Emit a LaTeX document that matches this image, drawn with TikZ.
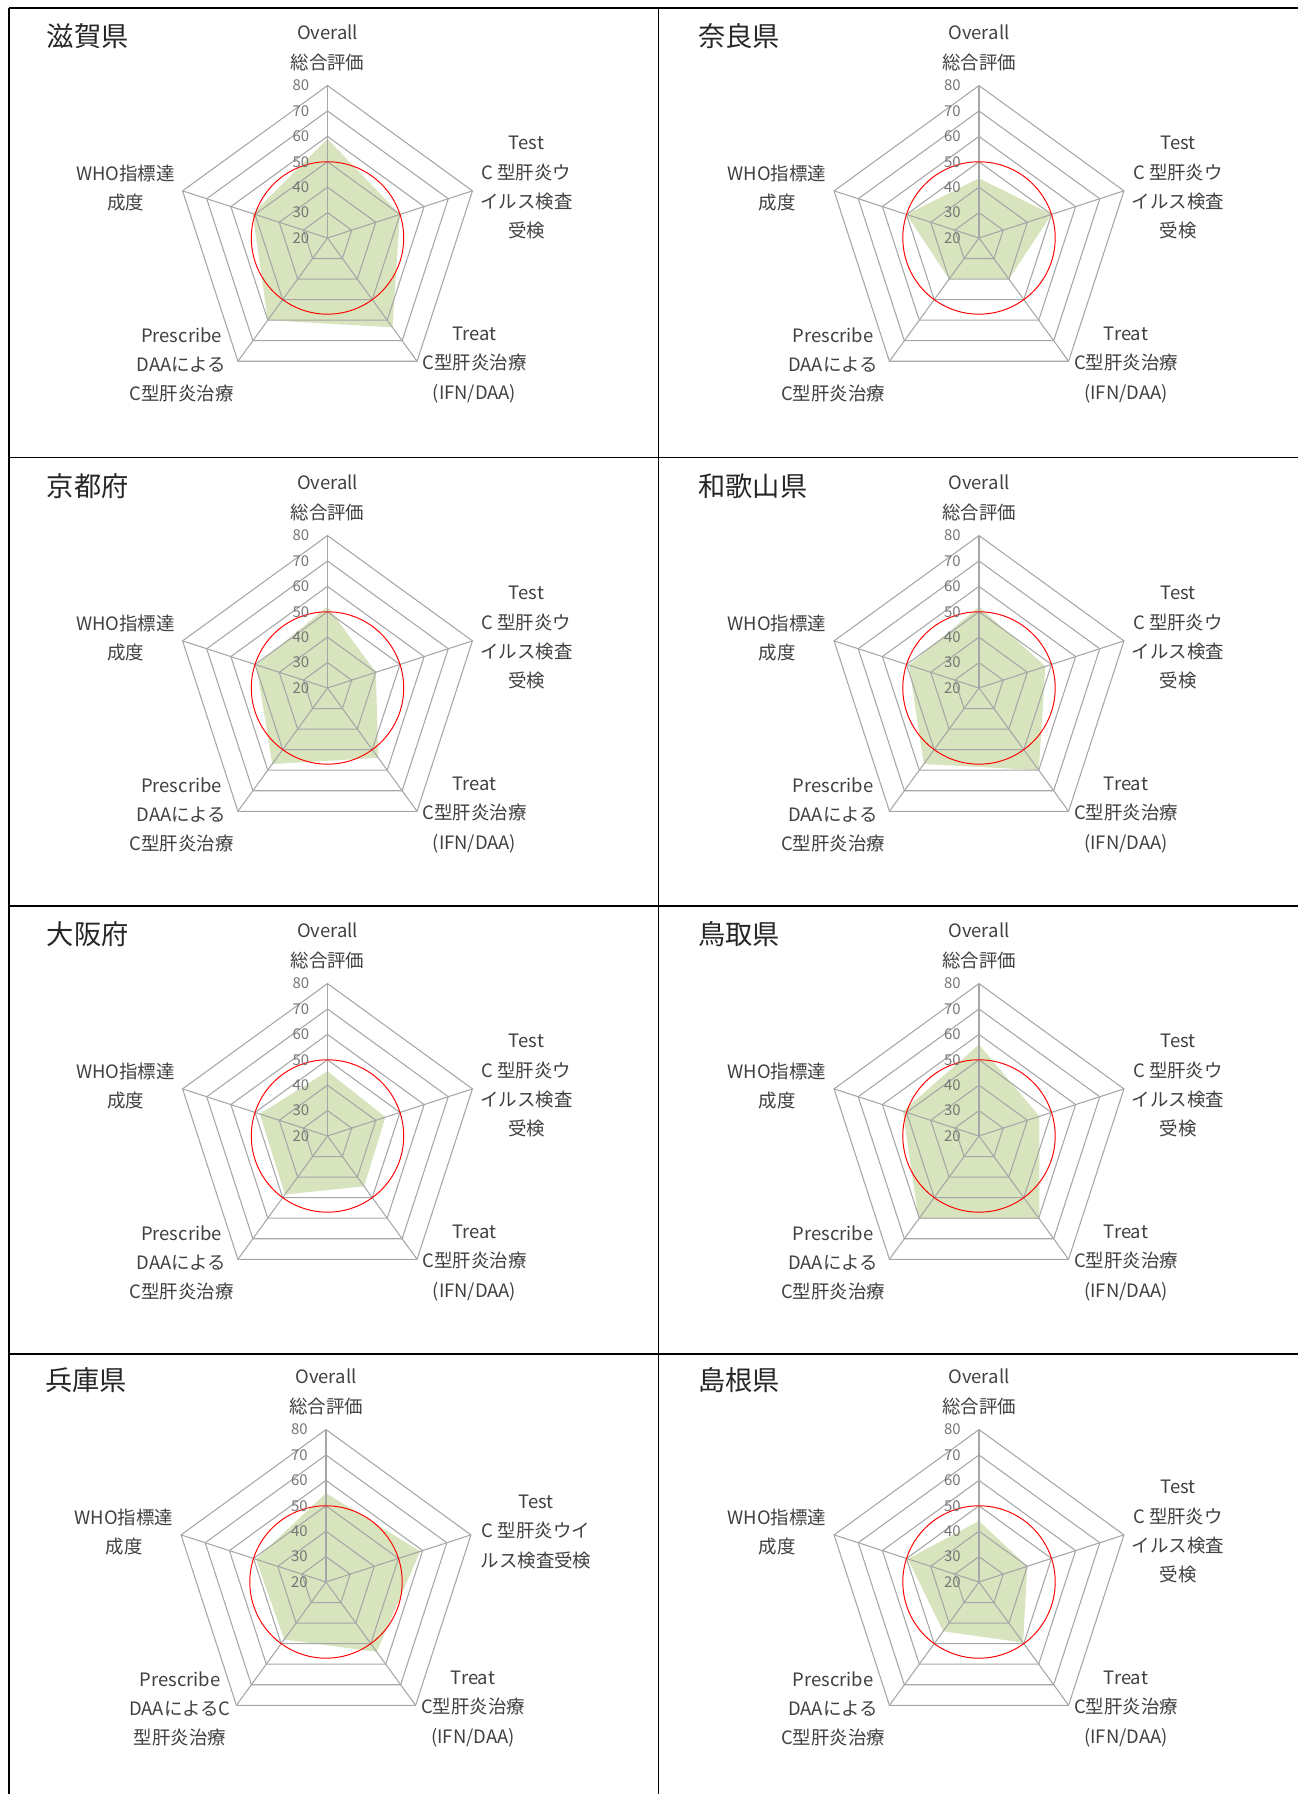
\documentclass[tikz,border=0pt]{standalone}
\usepackage{fontspec}
\setmainfont{Noto Sans CJK JP}
\usetikzlibrary{positioning}

\definecolor{gridgray}{RGB}{166,166,166}
\definecolor{labgray}{RGB}{64,64,64}
\definecolor{tickgray}{RGB}{118,118,118}
\definecolor{radargreen}{RGB}{215,228,189}

\begin{document}
\begin{tikzpicture}[x=0.02cm, y=0.02cm,
    gridline/.style={draw=gridgray, line width=0.6pt},
    radarfill/.style={fill=radargreen},
    target/.style={draw=red, line width=0.55pt},
    axislab/.style={font=\fontsize{10.5}{16.7}\selectfont, text=labgray, align=center, inner sep=0pt},
    ticklab/.style={font=\fontsize{8.5}{10}\selectfont, text=tickgray, anchor=east, inner sep=0pt},
    pref/.style={font=\fontsize{15.5}{18}\selectfont, text=black!85, anchor=west, inner sep=0pt},
    cellline/.style={line width=1.1pt}]
    % Define the ring gap (px per 10 points, centre = 20)
    \def\ringgap{2.54}
    \useasboundingbox (0,0) rectangle (1298,1794);

    % Table lines
    \foreach \y in {1786, 1336.5, 888, 440} {
        \draw[cellline] (9,\y) -- (1298,\y);
    }
    \foreach \x in {9, 658.5} {
        \draw[cellline] (\x,0) -- (\x,1786);
    }

    \foreach \cx/\cy/\pname/\va/\vb/\vc/\vd/\ve/\tx/\tlab/\plab [count=\k] in {
        327.5/1556/滋賀県/59/50/63.5/60/51/199/{C 型肝炎ウ\\イルス検査\\受検}/{DAAによる\\C型肝炎治療},
        979/1556/奈良県/43.5/50/40/40/50/199/{C 型肝炎ウ\\イルス検査\\受検}/{DAAによる\\C型肝炎治療},
        327.5/1106/京都府/52/40/54/57/49.5/199/{C 型肝炎ウ\\イルス検査\\受検}/{DAAによる\\C型肝炎治療},
        979/1106/和歌山県/52/47.5/60/57/49/199/{C 型肝炎ウ\\イルス検査\\受検}/{DAAによる\\C型肝炎治療},
        327.5/658/大阪府/45.5/44/44.5/48.5/48/199/{C 型肝炎ウ\\イルス検査\\受検}/{DAAによる\\C型肝炎治療},
        979/658/鳥取県/56/45/60.5/60.5/51.5/199/{C 型肝炎ウ\\イルス検査\\受検}/{DAAによる\\C型肝炎治療},
        326/212/兵庫県/55/59/54/48/49/210/{C 型肝炎ウイ\\ルス検査受検}/{DAAによるC\\型肝炎治療},
        979/212/島根県/44/40/49.5/44/49.5/199/{C 型肝炎ウ\\イルス検査\\受検}/{DAAによる\\C型肝炎治療}} {
        \begin{scope}[shift={(\cx,\cy)}]
            % score area
            \fill[radarfill] (90:{(\va-20)*\ringgap}) -- (18:{(\vb-20)*\ringgap}) -- (-54:{(\vc-20)*\ringgap})
                -- (-126:{(\vd-20)*\ringgap}) -- (162:{(\ve-20)*\ringgap}) -- cycle;
            % rings and spokes
            \foreach \v in {30, 40, ..., 80} {
                \pgfmathsetmacro\r{(\v-20)*\ringgap}
                \draw[gridline] (90:\r) -- (18:\r) -- (-54:\r) -- (-126:\r) -- (162:\r) -- cycle;
            }
            \foreach \a in {90, 18, -54, -126, 162} {
                \draw[gridline] (0,0) -- (\a:{60*\ringgap});
            }
            \draw[target] (0,0) circle ({30*\ringgap});
            \foreach \v in {20, 30, ..., 80} {
                \node[ticklab] (tick-\k-\v) at (-18,{(\v-20)*\ringgap}) {\v};
            }
            % Labels
            \node[pref] (pref-\k) at (-281,202) {\pname};
            \node[axislab] (ovl-\k) at (0,190) {Overall\\総合評価};
            \node[axislab] (tst-\k) at (\tx,50) {Test\\\tlab};
            \node[axislab] (trt-\k) at (147,-127) {Treat\\C型肝炎治療\\(IFN/DAA)};
            \node[axislab] (prs-\k) at (-146,-127) {Prescribe\\\plab};
            \node[axislab] (who-\k) at (-202,50) {WHO指標達\\成度};
        \end{scope}
    }
\end{tikzpicture}
\end{document}
